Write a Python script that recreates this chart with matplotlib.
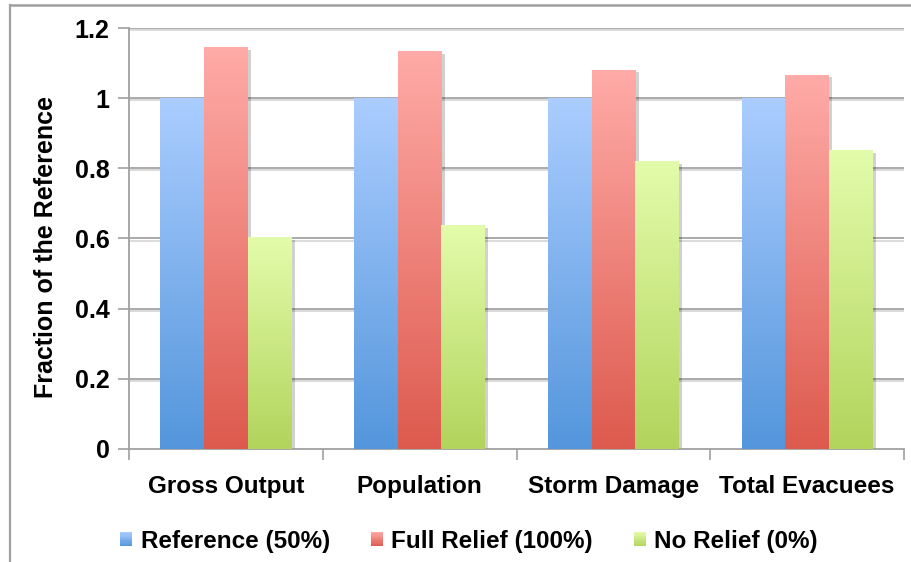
import numpy as np
import matplotlib
matplotlib.use("Agg")
import matplotlib.pyplot as plt
from matplotlib.patches import Rectangle
from matplotlib.lines import Line2D
from matplotlib.legend_handler import HandlerBase
from matplotlib import colors as mcolors
import matplotlib.patheffects as pe

categories = ["Gross Output", "Population", "Storm Damage", "Total Evacuees"]
series_names = ["Reference (50%)", "Full Relief (100%)", "No Relief (0%)"]
reference = [1.0, 1.0, 1.0, 1.0]
full_relief = [1.143, 1.133, 1.080, 1.066]
no_relief = [0.603, 0.637, 0.819, 0.850]
yticks = [0, 0.2, 0.4, 0.6, 0.8, 1.0, 1.2]
ytick_labels = ["0", "0.2", "0.4", "0.6", "0.8", "1", "1.2"]

grad_top = ["#abcdff", "#ffaba7", "#e3fcab"]
grad_bot = ["#5496dc", "#dd5a4e", "#b2d45c"]

plt.rcParams["font.family"] = ["Liberation Sans", "DejaVu Sans"]
plt.rcParams["font.weight"] = "bold"

fig = plt.figure(figsize=(9.11, 5.62), dpi=100)
ax = fig.add_axes([129 / 911, 1 - 449 / 562, 775 / 911, 421 / 562])

# outer frame
fx = 9.5 / 911
fy = 1 - 5.0 / 562
fig.add_artist(Line2D([fx, fx], [0, fy], transform=fig.transFigure, color="#a0a0a0",
                      lw=1.6, solid_capstyle="projecting"))
fig.add_artist(Line2D([fx, 1.0], [fy, fy], transform=fig.transFigure, color="#a0a0a0",
                      lw=1.8, solid_capstyle="projecting"))

x = np.arange(len(categories))
w = 0.225
data = [reference, full_relief, no_relief]
offsets = [-w, 0, w]


def gradient_img(top, bot, n=256):
    t = np.array(mcolors.to_rgb(top))
    b = np.array(mcolors.to_rgb(bot))
    f = np.linspace(0, 1, n)[:, None]
    return (t + (b - t) * f)[:, None, :]


for vals, off, top, bot in zip(data, offsets, grad_top, grad_bot):
    bars = ax.bar(x + off, vals, w, color="white", edgecolor="none", zorder=2,
                  path_effects=[pe.SimplePatchShadow(offset=(2.5, -1.5), shadow_rgbFace="#000000", alpha=0.18),
                                pe.Normal()])
    img = gradient_img(top, bot)
    for b in bars:
        bx, by = b.get_x(), b.get_y()
        bw, bh = b.get_width(), b.get_height()
        ax.imshow(img, extent=(bx, bx + bw, by, by + bh), aspect="auto",
                  origin="upper", zorder=3, interpolation="bilinear")

ax.set_xlim(-0.5, len(categories) - 0.5)
ax.set_ylim(0, 1.2)
ax.set_aspect("auto")

# grid
for yv in yticks[1:]:
    ax.axhline(yv, color="#a4a4a4", lw=1.3, zorder=1,
               path_effects=[pe.SimpleLineShadow(offset=(0, -1.5), shadow_color="#b0b0b0", alpha=0.5),
                             pe.Normal()])

ax.set_yticks(yticks)
ax.set_yticklabels(ytick_labels)
ax.set_xticks(x)
ax.set_xticklabels(categories)
ax.set_xticks(np.arange(-0.5, len(categories)), minor=True)
ax.tick_params(axis="y", direction="out", length=8, width=1.2, color="#a0a0a0",
               pad=6, labelsize=18)
ax.tick_params(axis="x", which="major", length=0, pad=19, labelsize=17.5)
ax.tick_params(axis="x", which="minor", direction="out", length=8, width=1.2, color="#a0a0a0")

for s in ["top", "right"]:
    ax.spines[s].set_visible(False)
for s in ["left", "bottom"]:
    ax.spines[s].set_color("#a0a0a0")
    ax.spines[s].set_linewidth(1.3)

ax.set_ylabel("Fraction of the Reference", fontsize=18, fontweight="bold")
ax.yaxis.set_label_coords((58 - 129) / 775, 0.48)


class GradHandler(HandlerBase):
    def __init__(self, top, bot):
        super().__init__()
        self.top = np.array(mcolors.to_rgb(top))
        self.bot = np.array(mcolors.to_rgb(bot))

    def create_artists(self, legend, orig_handle, xdescent, ydescent, width, height, fontsize, trans):
        n = 12
        arts = []
        for i in range(n):
            c = self.top + (self.bot - self.top) * (i + 0.5) / n
            r = Rectangle((-xdescent, -ydescent + height * (1 - (i + 1) / n)), width, height / n,
                          facecolor=c, edgecolor="none", transform=trans)
            arts.append(r)
        return arts


handles = [Rectangle((0, 0), 1, 1) for _ in series_names]
hmap = {h: GradHandler(t, b) for h, t, b in zip(handles, grad_top, grad_bot)}
fig.legend(handles, series_names, handler_map=hmap, loc="center", bbox_to_anchor=(0.515, 0.037),
           ncol=3, frameon=False, fontsize=17.5, handlelength=0.5, handleheight=0.5,
           handletextpad=0.33, columnspacing=1.7, borderpad=0)

fig.savefig("out.png", dpi=100)
